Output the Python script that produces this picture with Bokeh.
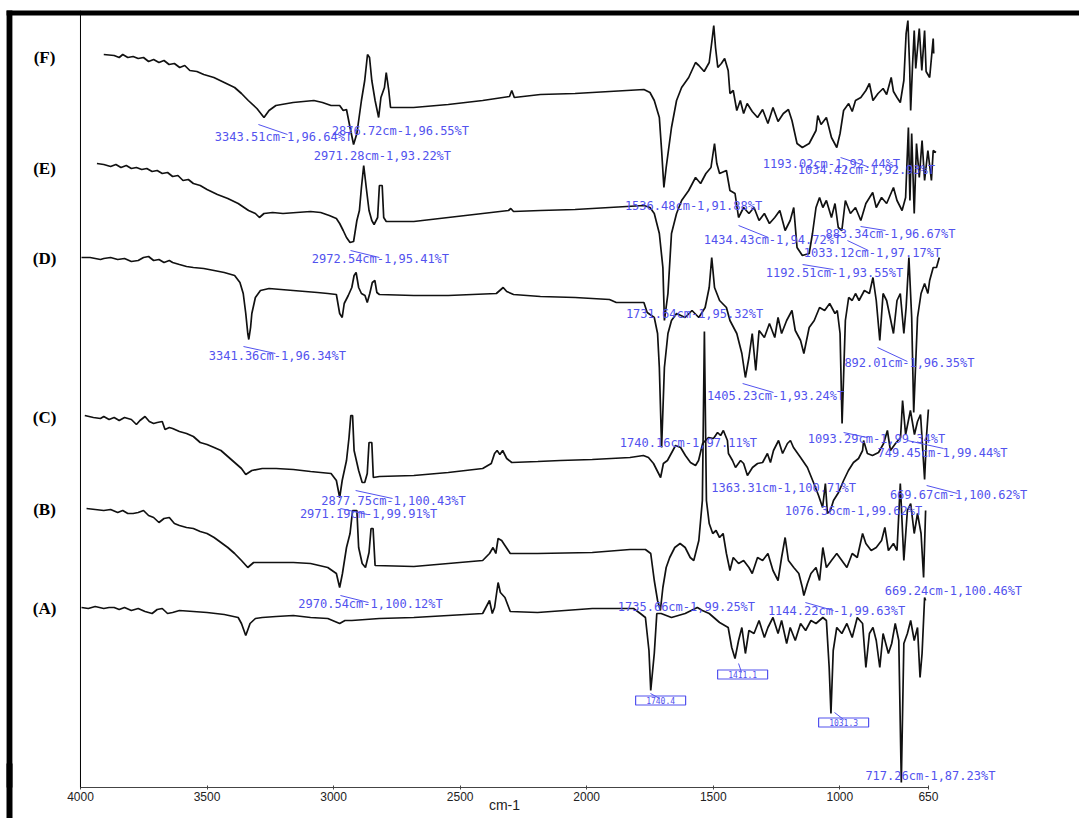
from bokeh.plotting import figure
from bokeh.models import (Range1d, FixedTicker, Label, BoxAnnotation, ColumnDataSource,
                          Span, LinearAxis)
from bokeh.embed import file_html
from bokeh.resources import INLINE
from bokeh.core.properties import value

# ---------------- data (wavenumber cm-1, stacked transmittance in display units) -------------
F_wn = [3908, 3867, 3847, 3833, 3813, 3792, 3772, 3751, 3731, 3711, 3690, 3670, 3650, 3629, 3608,
        3588, 3568, 3540, 3513, 3473, 3432, 3391, 3364, 3337, 3303, 3275, 3255, 3228, 3160, 3119,
        3078, 3044, 3010, 2976, 2962, 2949, 2935, 2921, 2908, 2890, 2877, 2866, 2858, 2849, 2836,
        2822, 2813, 2799, 2792, 2782, 2775, 2684, 2547, 2411, 2305, 2296, 2286, 2183,
        2046, 1910, 1774, 1750, 1733, 1713, 1704, 1695, 1686, 1665, 1645, 1625, 1597, 1570, 1557,
        1536, 1516, 1505, 1498, 1491, 1482, 1468, 1455, 1441, 1434, 1421, 1407, 1393, 1380, 1366,
        1346, 1325, 1305, 1284, 1264, 1244, 1223, 1203, 1189, 1169, 1148, 1121, 1094, 1087, 1074,
        1053, 1033, 1012, 999, 985, 965, 951, 938, 917, 897, 883, 869, 849, 829, 815, 797, 788,
        774, 761, 747, 738, 731, 724, 720, 713, 706, 700, 686, 676, 665, 659, 645, 631, 629]
F_t = [733, 732, 730, 733, 730, 731, 729, 730, 726, 728, 725, 727, 723, 724, 720,
       722, 717, 716, 713, 710, 705, 700, 694, 687, 679, 670, 677, 682, 685, 686,
       687, 685, 682, 682, 677, 678, 660, 643, 654, 687, 707, 733, 730, 707, 687,
       670, 690, 700, 715, 697, 680, 680, 683, 687, 691, 697, 690, 693,
       694, 696, 698, 695, 687, 670, 637, 600, 620, 660, 687, 700, 710, 725, 722,
       716, 725, 747, 762, 740, 720, 724, 729, 717, 694, 697, 677, 687, 674, 684,
       676, 670, 678, 664, 680, 666, 674, 678, 667, 644, 640, 644, 657, 672, 663,
       670, 650, 640, 654, 677, 684, 676, 687, 690, 697, 704, 687, 694, 699, 693, 710, 696,
       690, 685, 707, 754, 767, 720, 677, 720, 757, 719, 759, 717, 757, 716, 710, 749, 734]

E_wn = [3935, 3908, 3881, 3860, 3840, 3819, 3799, 3779, 3758, 3738, 3717, 3697, 3677, 3656, 3636,
        3615, 3595, 3574, 3554, 3527, 3500, 3459, 3418, 3377, 3336, 3309, 3293, 3275, 3241, 3200,
        3146, 3091, 3051, 3017, 2989, 2976, 2962, 2949, 2935, 2921, 2908, 2898, 2890, 2881, 2871,
        2860, 2849, 2840, 2826, 2819, 2808, 2802, 2792, 2683, 2547, 2411, 2309, 2300, 2289, 2183,
        2046, 1910, 1774, 1750, 1733, 1713, 1699, 1693, 1679, 1665, 1645, 1625, 1597, 1570, 1550,
        1529, 1509, 1495, 1486, 1475, 1448, 1434, 1414, 1400, 1380, 1359, 1339, 1319, 1298, 1278,
        1257, 1237, 1216, 1196, 1182, 1169, 1148, 1121, 1108, 1094, 1080, 1067, 1053, 1033, 1019,
        1006, 992, 978, 958, 938, 917, 897, 870, 856, 835, 815, 788, 774, 754, 740,
        729, 723, 716, 706, 697, 686, 675, 665, 652, 638, 631, 620]
E_t = [624, 623, 621, 623, 620, 622, 619, 620, 618, 619, 616, 617, 614, 615, 611,
       612, 607, 608, 604, 602, 598, 593, 589, 584, 577, 574, 570, 574, 575, 574,
       575, 576, 575, 572, 569, 564, 557, 550, 545, 546, 567, 577, 600, 622, 600,
       577, 567, 563, 570, 602, 602, 570, 566, 566, 570, 574, 577, 579, 576, 577,
       578, 580, 582, 580, 574, 554, 520, 467, 494, 554, 574, 587, 597, 610, 604,
       614, 620, 644, 624, 614, 617, 597, 594, 570, 580, 574, 580, 567, 574, 564,
       570, 577, 557, 567, 580, 540, 532, 534, 554, 580, 590, 580, 587, 570, 584,
       560, 557, 587, 574, 580, 567, 584, 595, 580, 590, 584, 600, 587, 577, 590,
       660, 587, 654, 574, 644, 610, 647, 607, 637, 607, 637, 635]

D_wn = [3996, 3962, 3921, 3908, 3881, 3853, 3826, 3799, 3772, 3751, 3731, 3711, 3690, 3670, 3649,
        3636, 3609, 3581, 3554, 3513, 3472, 3432, 3391, 3370, 3357, 3347, 3339, 3335, 3328, 3323,
        3309, 3289, 3255, 3160, 3064, 3023, 2989, 2976, 2966, 2958, 2942, 2928, 2919, 2911, 2901,
        2890, 2876, 2867, 2857, 2847, 2837, 2829, 2819, 2683, 2547, 2357, 2330, 2316, 2289, 2183,
        2046, 1910, 1883, 1774, 1761, 1733, 1720, 1713, 1704, 1693, 1679, 1665, 1645, 1611, 1584,
        1557, 1532, 1516, 1506, 1495, 1475, 1448, 1434, 1407, 1387, 1373, 1359, 1346, 1332, 1319,
        1298, 1278, 1257, 1244, 1230, 1210, 1189, 1176, 1155, 1142, 1121, 1101, 1080, 1060, 1040,
        1019, 1010, 999, 991, 978, 965, 951, 938, 924, 903, 883, 869, 856, 842, 829,
        815, 801, 788, 774, 761, 747, 738, 727, 716, 708, 693, 679, 665, 652, 645, 631, 618, 607]
D_t = [530, 530, 528, 529, 530, 528, 529, 526, 527, 530, 531, 527, 528, 525, 527,
       525, 523, 521, 520, 519, 517, 515, 512, 505, 494, 474, 454, 448, 460, 474,
       490, 497, 499, 497, 495, 494, 493, 474, 470, 484, 492, 500, 512, 515, 500,
       494, 492, 485, 494, 505, 507, 495, 493, 492, 492, 494, 500, 496, 493, 491,
       490, 488, 485, 485, 475, 470, 454, 420, 340, 420, 454, 467, 474, 470, 477,
       470, 480, 500, 530, 500, 487, 480, 467, 454, 434, 410, 430, 454, 417, 457,
       450, 464, 450, 470, 454, 467, 477, 457, 447, 434, 460, 467, 480, 477, 484,
       474, 477, 454, 364, 467, 490, 487, 494, 487, 497, 494, 510, 487, 447, 494,
       487, 470, 454, 487, 494, 454, 480, 530, 470, 375, 470, 494, 504, 494, 507, 520, 520, 530]

C_wn = [3983, 3949, 3921, 3908, 3887, 3867, 3847, 3826, 3799, 3779, 3765, 3745, 3728, 3711, 3697,
        3677, 3666, 3649, 3636, 3609, 3581, 3554, 3527, 3500, 3472, 3445, 3418, 3391, 3364, 3347,
        3323, 3282, 3227, 3159, 3091, 3051, 3010, 2989, 2976, 2966, 2949, 2939, 2932, 2925, 2919,
        2901, 2887, 2877, 2867, 2860, 2849, 2843, 2819, 2683, 2547, 2411, 2377, 2364, 2354, 2343,
        2332, 2316, 2296, 2193,
        2104, 1978, 1829, 1776, 1756, 1736, 1708, 1697, 1681, 1649, 1629, 1610, 1590, 1570, 1558,
        1542, 1519, 1499, 1483, 1471, 1460, 1444, 1440, 1424, 1412, 1392, 1380, 1365, 1345, 1325,
        1305, 1286, 1274, 1262, 1242, 1226, 1207, 1195, 1183, 1155, 1128, 1104, 1084, 1068, 1057,
        1049, 1037, 1025, 1005, 985, 966, 946, 926, 910, 906, 891, 871, 847, 827, 812,
        800, 780, 760, 752, 740, 721, 705, 693, 681, 665, 657, 650]
C_t = [372, 370, 369, 371, 368, 370, 367, 370, 368, 363, 367, 371, 366, 364, 365,
       366, 358, 360, 359, 356, 354, 351, 345, 343, 340, 337, 331, 325, 319, 313,
       317, 319, 319, 318, 316, 315, 314, 307, 290, 307, 327, 350, 372, 372, 337,
       317, 305, 305, 314, 345, 345, 310, 311, 312, 315, 319, 324, 334, 337, 333,
       337, 329, 325, 326,
       327, 328, 330, 332, 330, 324, 310, 324, 327, 342, 340, 332, 325, 322, 327,
       344, 350, 349, 355, 352, 357, 347, 334, 327, 320, 327, 324, 312, 320, 324,
       325, 334, 325, 337, 347, 334, 344, 347, 340, 330, 320, 305, 292, 280, 304,
       274, 277, 287, 295, 307, 317, 325, 329, 337, 347, 334, 332, 335, 344, 357,
       337, 344, 350, 387, 353, 377, 353, 366, 373, 308, 353, 378]

B_wn = [3976, 3942, 3908, 3881, 3853, 3833, 3813, 3792, 3772, 3751, 3731, 3711, 3690, 3670, 3649,
        3629, 3609, 3581, 3554, 3527, 3500, 3472, 3445, 3418, 3391, 3364, 3339, 3316, 3282, 3227,
        3159, 3091, 3023, 2989, 2976, 2965, 2949, 2935, 2925, 2917, 2908, 2901, 2887, 2874, 2860,
        2852, 2844, 2836, 2683, 2547, 2411, 2384, 2370, 2359, 2350, 2336, 2323, 2302, 2194,
        1978, 1829, 1768, 1747, 1733, 1720, 1709, 1699, 1686, 1672, 1652, 1631, 1611, 1591, 1577,
        1557, 1543, 1535, 1527, 1516, 1502, 1489, 1475, 1461, 1448, 1434, 1421, 1400, 1380, 1359,
        1346, 1325, 1305, 1284, 1264, 1244, 1230, 1216, 1203, 1182, 1162, 1148, 1142, 1128, 1114,
        1094, 1080, 1067, 1053, 1033, 1012, 992, 972, 951, 931, 910, 897, 876, 856, 835,
        822, 808, 788, 774, 761, 747, 733, 720, 706, 693, 679, 669, 661]
B_t = [279, 278, 277, 278, 275, 277, 274, 274, 275, 277, 272, 270, 265, 269, 270,
       264, 262, 260, 259, 256, 254, 250, 245, 240, 234, 227, 220, 225, 225, 225,
       225, 224, 220, 214, 200, 214, 240, 254, 277, 277, 277, 240, 224, 220, 235,
       259, 259, 222, 221, 224, 227, 234, 240, 234, 249, 247, 242, 234, 234,
       235, 238, 238, 234, 207, 187, 177, 200, 220, 230, 240, 244, 240, 230, 227,
       247, 287, 456, 287, 264, 254, 257, 250, 254, 234, 217, 230, 224, 227, 220,
       214, 230, 227, 234, 217, 207, 230, 250, 227, 220, 214, 200, 192, 204, 214,
       220, 207, 240, 220, 227, 234, 227, 220, 234, 230, 254, 244, 237, 240, 247,
       260, 237, 244, 237, 304, 227, 277, 284, 254, 274, 254, 210, 277]

A_wn = [3996, 3969, 3942, 3908, 3887, 3867, 3847, 3826, 3799, 3772, 3745, 3717, 3697, 3677, 3656,
        3636, 3609, 3554, 3500, 3432, 3377, 3364, 3347, 3330, 3309, 3282, 3227, 3159, 3091, 3023,
        2976, 2955, 2928, 2819, 2683, 2547, 2411, 2384, 2373, 2364, 2350, 2341, 2323, 2302, 2194,
        1978, 1815, 1788, 1768, 1754, 1747, 1733, 1723, 1706, 1665, 1611, 1563, 1543, 1516, 1475,
        1441, 1427, 1414, 1400, 1387, 1373, 1359, 1339, 1319, 1298, 1284, 1264, 1244, 1230, 1210,
        1196, 1176, 1155, 1135, 1114, 1094, 1067, 1053, 1042, 1035, 1026, 1012, 992, 972, 951,
        931, 910, 897, 883, 869, 856, 842, 829, 808, 795, 781, 767, 757, 747, 733,
        720, 706, 693, 683, 675, 665, 661]
A_t = [180, 179, 181, 179, 180, 180, 178, 180, 177, 179, 176, 174, 178, 179, 174,
       175, 177, 176, 175, 173, 170, 164, 152, 164, 169, 170, 171, 172, 170, 169,
       164, 167, 167, 169, 170, 172, 174, 187, 174, 180, 205, 195, 190, 176, 175,
       179, 179, 174, 170, 137, 97, 134, 174, 174, 170, 174, 180, 177, 174, 165,
       160, 140, 129, 147, 160, 134, 157, 154, 167, 150, 160, 170, 154, 167, 144,
       160, 147, 164, 157, 167, 164, 170, 167, 120, 74, 137, 160, 154, 164, 150,
       170, 164, 120, 154, 160, 147, 120, 154, 134, 144, 164, 147, 5, 144, 154,
       167, 147, 160, 110, 134, 190, 187]

sample_names = ["(A)", "(B)", "(C)", "(D)", "(E)", "(F)"]
x_ticks = [4000, 3500, 3000, 2500, 2000, 1500, 1000, 650]
x_title = "cm-1"

peak_texts = ["2876.72cm-1,96.55%T", "3343.51cm-1,96.64%T", "2971.28cm-1,93.22%T",
              "1193.02cm-1,92.44%T", "1034.42cm-1,92.93%T", "2972.54cm-1,95.41%T",
              "1536.48cm-1,91.88%T", "883.34cm-1,96.67%T", "1434.43cm-1,94.72%T",
              "1033.12cm-1,97.17%T", "1192.51cm-1,93.55%T", "3341.36cm-1,96.34%T",
              "1731.64cm-1,95.32%T", "892.01cm-1,96.35%T", "1405.23cm-1,93.24%T",
              "2877.75cm-1,100.43%T", "2971.19cm-1,99.91%T", "2970.54cm-1,100.12%T",
              "1740.16cm-1,97.11%T", "1093.29cm-1,99.34%T", "749.45cm-1,99.44%T",
              "1363.31cm-1,100.71%T", "669.67cm-1,100.62%T", "1076.36cm-1,99.62%T",
              "669.24cm-1,100.46%T", "1735.66cm-1,99.25%T", "1144.22cm-1,99.63%T",
              "717.26cm-1,87.23%T"]
box_texts = ["1740.4", "1411.1", "1031.3"]

# ---------------- layout of annotations (positions only) ----------------
peak_x = [2736, 3198, 2807, 1033, 895, 2815, 1578, 800, 1266, 871, 1021, 3222, 1574, 725, 1254,
          2763, 2862, 2854, 1598, 855, 594, 1222, 531, 946, 551, 1606, 1013, 642]
peak_y = [657, 651, 632, 624, 618, 529, 582, 554, 548, 535, 515, 432, 474, 425, 392,
          287, 274, 184, 345, 349, 335, 300, 293, 277, 197, 181, 177, 12]
box_x = [1708, 1384, 985]
box_y = [87, 113, 65]
lead_x0 = [3297, 997, 2933, 918, 1400, 970, 1147, 3356, 851, 1384, 2913, 2973, 2973, 985, 733, 657, 1136, 1748, 1400, 1021]
lead_y0 = [663, 630, 537, 561, 562, 547, 523, 441, 440, 404, 297, 279, 192, 355, 347, 302, 185, 94, 124, 75]
lead_x1 = [3182, 891, 2819, 819, 1282, 887, 1025, 3230, 733, 1262, 2767, 2866, 2862, 891, 590, 535, 1025, 1712, 1388, 985]
lead_y1 = [653, 621, 530, 557, 550, 537, 518, 434, 426, 395, 289, 273, 185, 350, 339, 294, 177, 89, 115, 68]
name_x = 4142
name_y = [179, 278, 370, 529, 619, 730]
frame_left, frame_inner = 4292, 4269     # thick black frame edge (left strip)
frame_top_bottom = 772                    # lower edge of the thick top strip

BLUE = "#5252ee"

p = figure(width=1079, height=818, output_backend="svg", toolbar_location=None,
           x_range=Range1d(4316, 53), y_range=Range1d(0, 777), y_axis_location=None,
           min_border_left=0, min_border_right=0, min_border_top=10, min_border_bottom=31)
p.outline_line_color = None
p.xgrid.visible = False
p.ygrid.visible = False
p.background_fill_color = "white"
p.border_fill_color = "white"

xa = p.xaxis[0]
xa.ticker = FixedTicker(ticks=x_ticks)
xa.bounds = (x_ticks[-1], x_ticks[0])
xa.axis_line_color = "#444444"
xa.axis_line_width = 1
xa.major_tick_in = 2
xa.major_tick_out = 2
xa.major_tick_line_color = "#444444"
xa.minor_tick_line_color = None
xa.major_label_text_font = "Liberation Sans"
xa.major_label_text_font_size = "12px"
xa.major_label_text_color = "#222222"
xa.major_label_standoff = 2

# second axis carrying the unit title centred under the 4000..650 span,
# plus the continuation of the thick left frame strip below the plot area
mid = (x_ticks[0] + x_ticks[-1]) / 2
title_axis = LinearAxis(ticker=FixedTicker(ticks=[mid], minor_ticks=[(frame_left + frame_inner) / 2]),
                        major_label_overrides={mid: x_title})
title_axis.axis_line_color = None
title_axis.major_tick_line_color = None
title_axis.major_tick_out = 0
title_axis.major_tick_in = 0
title_axis.minor_tick_line_color = "black"
title_axis.minor_tick_line_width = 6
title_axis.minor_tick_in = 40
title_axis.minor_tick_out = 16
title_axis.major_label_text_font = "Liberation Sans"
title_axis.major_label_text_font_size = "14px"
title_axis.major_label_text_color = "#222222"
title_axis.major_label_standoff = -23
p.add_layout(title_axis, "below")

p.add_layout(Span(location=x_ticks[0], dimension="height", line_color="black", line_width=1))

for wn, t in [(A_wn, A_t), (B_wn, B_t), (C_wn, C_t), (D_wn, D_t), (E_wn, E_t), (F_wn, F_t)]:
    p.line(wn, t, line_color="#111111", line_width=1.7)

p.segment(x0=lead_x0, y0=lead_y0, x1=lead_x1, y1=lead_y1, line_color=BLUE, line_width=1)

src = ColumnDataSource(dict(x=peak_x, y=peak_y, text=peak_texts))
p.text(x="x", y="y", text="text", source=src, text_font=value("DejaVu Sans Mono"),
       text_font_size="12px", text_color=BLUE, text_align="center", text_baseline="middle")

bsrc = ColumnDataSource(dict(x=box_x, y=box_y, text=box_texts))
p.rect(x="x", y="y", width=50, height=9, width_units="screen", height_units="screen",
       source=bsrc, fill_color=None, line_color=BLUE, line_width=1.2)
p.text(x="x", y="y", text="text", source=bsrc, text_font=value("DejaVu Sans Mono"),
       text_font_size="8px", text_color=BLUE, text_align="center", text_baseline="middle")

for name, yy in zip(sample_names, name_y):
    p.add_layout(Label(x=name_x, y=yy, text=name, text_font="Liberation Serif",
                       text_font_style="bold", text_font_size="17px", text_color="black",
                       text_align="center", text_baseline="middle"))

# thick frame strips (top and left)
p.add_layout(BoxAnnotation(left=frame_left, right=0, top=800, bottom=frame_top_bottom,
                           fill_color="black", fill_alpha=1, line_color=None))
p.add_layout(BoxAnnotation(left=frame_left, right=frame_inner, top=800, bottom=-20,
                           fill_color="black", fill_alpha=1, line_color=None))

open("out.html", "w").write(file_html(p, INLINE))
